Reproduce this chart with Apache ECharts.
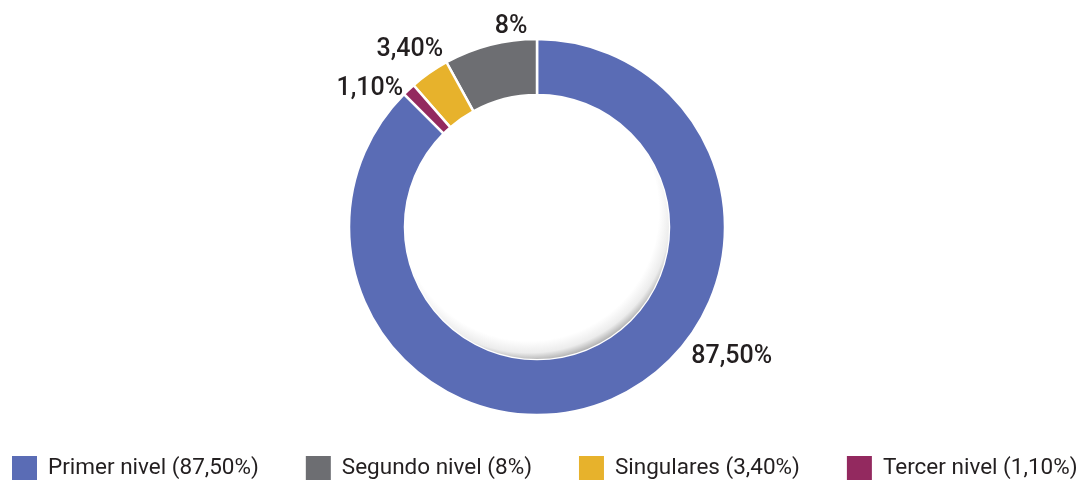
<!DOCTYPE html>
<html>
<head>
<meta charset="utf-8">
<script src="https://cdn.jsdelivr.net/npm/echarts@6/dist/echarts.min.js"></script>
<style>
  html, body { margin: 0; padding: 0; background: #fff; }
  #chart { width: 1087px; height: 480px; }
</style>
</head>
<body>
<div id="chart"></div>
<script>
  const categories = ['Primer nivel', 'Segundo nivel', 'Singulares', 'Tercer nivel']
  const values = [87.5, 8, 3.4, 1.1]
  const colors = ['#5A6CB5', '#6D6E72', '#E7B22C', '#93295F']

  // where each percentage label sits, polar around the pie centre [angle deg, distance px]
  const labelPolar = [[-33.7, 234], [97.4, 202], [125.7, 218], [140.4, 217]]

  const CX = 537
  const CY = 227
  const FONT = "Roboto, 'Noto Sans', sans-serif"

  const fmt = (v) => (Number.isInteger(v) ? String(v) : v.toFixed(2).replace('.', ',')) + '%'

  const chart = echarts.init(document.getElementById('chart'))

  const option = {
    animation: false,
    legend: {
      left: 5,
      top: 449,
      itemWidth: 27,
      itemHeight: 27,
      itemGap: 45,
      icon: 'rect',
      data: categories,
      formatter: (name) => name + ' (' + fmt(values[categories.indexOf(name)]) + ')',
      textStyle: { fontFamily: FONT, fontSize: 22.5, color: '#231F20', padding: [2, 0, 0, 5] }
    },
    series: [
      {
        type: 'pie',
        center: [CX, CY],
        radius: [132, 188],
        startAngle: 135,
        clockwise: false,
        data: categories.map((name, i) => ({
          name,
          value: values[i],
          itemStyle: { color: colors[i] }
        })),
        itemStyle: { borderColor: '#fff', borderWidth: 2.5 },
        label: {
          show: true,
          position: 'outside',
          formatter: (p) => fmt(p.value),
          fontFamily: FONT,
          fontSize: 25,
          fontWeight: 500,
          color: '#231F20'
        },
        labelLine: { show: false },
        labelLayout: (params) => {
          const [a, d] = labelPolar[params.dataIndex]
          const rad = (a * Math.PI) / 180
          return {
            x: CX + d * Math.cos(rad),
            y: CY - d * Math.sin(rad),
            align: 'center',
            verticalAlign: 'middle'
          }
        },
        emphasis: { disabled: true }
      },
      {
        // hole with soft inner shading
        type: 'pie',
        center: [CX, CY],
        radius: [0, 132],
        silent: true,
        label: { show: false },
        labelLine: { show: false },
        data: [{
          value: 1,
          name: 'hole',
          itemStyle: {
            color: new echarts.graphic.RadialGradient(0.47, 0.44, 0.565, [
              { offset: 0, color: '#ffffff' },
              { offset: 0.87, color: '#ffffff' },
              { offset: 0.95, color: '#ececec' },
              { offset: 1, color: '#b4b4b4' }
            ])
          }
        }],
        emphasis: { disabled: true }
      }
    ]
  }

  chart.setOption(option)
</script>
</body>
</html>
